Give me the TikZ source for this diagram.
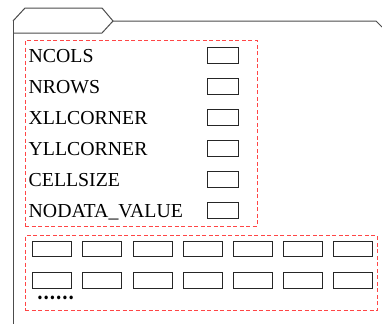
\documentclass[tikz,border=0pt]{standalone}
\usepackage{fontspec}
\setmainfont{Liberation Serif}
\newfontfamily\cjk{Noto Sans CJK SC}
\begin{document}
\begin{tikzpicture}[x=1pt,y=-1pt,
  folderline/.style={draw=black!70,line width=1pt,line join=miter},
  groupbox/.style={draw={rgb,255:red,255;green,70;blue,70},line width=1pt,dash pattern=on 4pt off 2.5pt},
  label/.style={anchor=base west,inner sep=0pt,font=\fontsize{19.8}{21}\selectfont},
  valbox/.style={draw=black!85,line width=0.9pt,minimum width=31pt,minimum height=15.5pt,inner sep=0pt},
  cellbox/.style={draw=black!85,line width=0.9pt,minimum width=39pt,minimum height=15.7pt,inner sep=0pt}]
\useasboundingbox (0,0) rectangle (382,324);
% folder outline
\draw[folderline] (13,21) -- (25,8) -- (102,8) -- (113,21) -- (102,33) -- (13,33);
\draw[folderline] (13,21) -- (13,324);
\draw[folderline] (113,21) -- (376,21) -- (382,27);
% header group
\node[groupbox,minimum width=232pt,minimum height=185.5pt,inner sep=0pt] (hdr) at (141.2,133.4) {};
\foreach \t [count=\i from 0] in {NCOLS,NROWS,XLLCORNER,YLLCORNER,CELLSIZE,NODATA\_VALUE}{
  \node[label] (lab\i) at (28.5,62+31*\i) {\t};
  \node[valbox] (val\i) at (222.5,55.6+31*\i) {};
}
% data group
\node[groupbox,minimum width=352pt,minimum height=75pt,inner sep=0pt] (data) at (201,273.2) {};
\foreach \r in {0,1}{
  \foreach \c in {0,...,6}{
    \node[cellbox] (cell\r\c) at (52.2+50.2*\c,249+31.2*\r) {};
  }
}
\node[inner sep=0pt,font=\cjk\bfseries\fontsize{16.5}{18}\selectfont] (dots) at (55.5,298.2) {……};
\end{tikzpicture}
\end{document}
